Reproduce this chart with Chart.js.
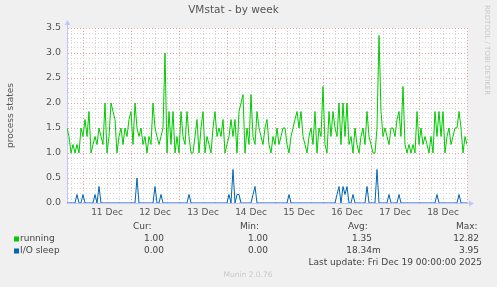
<!DOCTYPE html>
<html>
<head>
<meta charset="utf-8">
<script src="https://cdn.jsdelivr.net/npm/chart.js@4.4.1/dist/chart.umd.min.js"></script>
<style>
  html, body { margin: 0; padding: 0; background: #f0f0f0; }
  #wrap { width: 497px; height: 287px; }
</style>
</head>
<body>
<div id="wrap"><canvas id="vmstat" width="497" height="287"></canvas></div>
<script>
// ---------- DATA (one value per hour, hours counted from 11 Dec 00:00) ----------
const startHour = -8;   // 10 Dec 16:00
const endHour = 192;    // 19 Dec 00:00

const running = [
  1.5, 1.33, 1.0, 1.17, 1.0, 1.17, 1.0, 1.5, 1.33, 1.67,
  1.33, 1.83, 1.0, 1.17, 1.33, 1.17, 1.5, 1.33, 1.17, 2.0,
  1.0, 1.33, 2.0, 1.83, 1.67, 1.0, 1.33, 1.5, 1.17, 1.5,
  1.33, 1.67, 1.83, 1.17, 2.0, 1.5, 1.33, 1.5, 1.17, 1.33,
  1.0, 1.33, 1.17, 2.0, 1.5, 1.33, 1.17, 1.33, 1.5, 3.0,
  1.0, 1.83, 1.17, 1.83, 1.0, 1.33, 1.0, 1.83, 1.33, 1.17,
  1.83, 1.33, 1.0, 1.0, 1.33, 1.67, 1.0, 1.5, 1.83, 1.0,
  1.33, 1.17, 1.0, 1.5, 1.83, 1.33, 1.5, 1.33, 1.67, 1.0,
  1.17, 1.33, 1.67, 1.33, 1.67, 1.0, 1.83, 2.0, 2.17, 1.0,
  1.5, 1.17, 2.17, 1.33, 1.17, 1.83, 1.5, 1.33, 1.17, 1.5,
  1.67, 1.17, 1.0, 1.33, 1.17, 1.5, 1.17, 1.33, 1.5, 1.5,
  1.17, 1.0, 1.33, 1.5, 1.67, 1.83, 1.5, 1.83, 1.33, 1.17,
  1.0, 1.33, 1.5, 1.17, 1.83, 1.0, 1.5, 1.33, 2.33, 1.17,
  1.0, 1.83, 1.33, 1.83, 1.5, 1.33, 2.0, 1.17, 2.0, 1.33,
  2.0, 1.17, 1.33, 1.0, 1.5, 1.17, 1.0, 1.33, 1.5, 1.17,
  1.83, 1.33, 1.17, 1.0, 1.0, 1.5, 3.35, 1.83, 1.33, 1.5,
  1.33, 1.17, 1.5, 1.5, 1.33, 1.67, 1.83, 1.33, 2.33, 1.17,
  1.0, 1.17, 1.0, 1.17, 1.0, 1.83, 1.17, 1.5, 1.17, 1.33,
  1.17, 1.0, 1.33, 1.0, 1.83, 1.33, 1.83, 1.33, 1.83, 1.0,
  1.33, 1.5, 1.17, 1.33, 1.5, 1.5, 1.83, 1.5, 1.0, 1.33,
  1.17
];

const ioSleep = [
  0, 0, 0, 0, 0, 0.17, 0, 0, 0.17, 0,
  0, 0, 0, 0, 0.17, 0, 0.33, 0, 0, 0,
  0, 0, 0, 0, 0, 0, 0, 0, 0, 0,
  0, 0, 0, 0, 0, 0.5, 0, 0, 0, 0,
  0, 0, 0, 0, 0.33, 0, 0, 0.17, 0, 0,
  0, 0, 0, 0, 0, 0, 0, 0, 0, 0,
  0, 0.17, 0, 0, 0, 0, 0, 0, 0, 0,
  0, 0, 0, 0, 0, 0, 0, 0, 0, 0,
  0, 0.17, 0, 0.67, 0, 0.17, 0.17, 0, 0, 0,
  0, 0, 0, 0.17, 0.33, 0, 0, 0, 0, 0,
  0, 0, 0, 0, 0, 0, 0, 0, 0, 0,
  0, 0.17, 0, 0, 0, 0, 0, 0, 0, 0,
  0, 0, 0, 0, 0, 0, 0, 0, 0, 0,
  0, 0, 0, 0, 0, 0.17, 0.33, 0, 0.33, 0.17,
  0.33, 0, 0, 0.17, 0, 0, 0, 0, 0, 0,
  0.33, 0, 0, 0, 0, 0.67, 0, 0, 0, 0,
  0, 0.17, 0, 0, 0, 0, 0.17, 0, 0, 0,
  0, 0, 0, 0, 0, 0, 0, 0, 0, 0,
  0, 0, 0, 0, 0, 0.17, 0, 0, 0, 0,
  0, 0, 0, 0, 0, 0, 0.17, 0, 0, 0,
  0
];

// x axis: labels at noon of each day
const dayLabels = ['11 Dec', '12 Dec', '13 Dec', '14 Dec', '15 Dec', '16 Dec', '17 Dec', '18 Dec'];
const dayLabelHours = [12, 36, 60, 84, 108, 132, 156, 180];

// y axis
const yMax = 3.5;
const yLabelTicks = [0, 0.5, 1.0, 1.5, 2.0, 2.5, 3.0, 3.5];

// legend table
const seriesNames = ['running', 'I/O sleep'];
const seriesColors = ['#00cc00', '#0066b3'];
const curValues = ['1.00', '0.00'];
const minValues = ['1.00', '0.00'];
const avgValues = ['1.35', '18.34'];
const avgSuffix = ['', 'm'];
const maxValues = ['12.82', '3.95'];

// ---------- STYLE ----------
const FONT = 'DejaVu Sans';
const MAJOR_GRID = '#eaa2a2';
const MINOR_GRID = '#d6d6d6';
const AXIS_COLOR = '#c4c4ff';
const TEXT_COLOR = '#555555';

function toPoints(arr) {
    return arr.map((v, i) => ({ x: startHour + i, y: v }));
}

// plot bg + arrows + legend table under the chart
const muninDecor = {
    id: 'muninDecor',
    beforeDraw(chart) {
        const { ctx, chartArea: a } = chart;
        ctx.save();
        ctx.fillStyle = '#ffffff';
        ctx.fillRect(a.left, a.top, a.right - a.left, a.bottom - a.top);
        ctx.restore();
    },
    afterDraw(chart) {
        const { ctx, chartArea: a } = chart;
        ctx.save();

        // axis arrows
        ctx.strokeStyle = AXIS_COLOR;
        ctx.fillStyle = AXIS_COLOR;
        ctx.lineWidth = 1;
        ctx.beginPath();
        ctx.moveTo(a.left + 0.5, a.top);
        ctx.lineTo(a.left + 0.5, a.top - 4);
        ctx.moveTo(a.right, a.bottom + 0.5);
        ctx.lineTo(a.right + 4, a.bottom + 0.5);
        ctx.stroke();
        ctx.beginPath();
        ctx.moveTo(a.left + 0.5 - 3, a.top - 3);
        ctx.lineTo(a.left + 0.5 + 3, a.top - 3);
        ctx.lineTo(a.left + 0.5, a.top - 8);
        ctx.closePath();
        ctx.fill();
        ctx.beginPath();
        ctx.moveTo(a.right + 2, a.bottom + 0.5 - 3);
        ctx.lineTo(a.right + 2, a.bottom + 0.5 + 3);
        ctx.lineTo(a.right + 7, a.bottom + 0.5);
        ctx.closePath();
        ctx.fill();

        // watermark
        ctx.fillStyle = '#c8c8c8';
        ctx.font = '7px ' + FONT;
        ctx.translate(487, 5);
        ctx.rotate(Math.PI / 2);
        ctx.textAlign = 'left';
        ctx.textBaseline = 'middle';
        ctx.fillText('RRDTOOL / TOBI OETIKER', 0, 0);
        ctx.setTransform(1, 0, 0, 1, 0, 0);

        // legend table
        ctx.font = '9px ' + FONT;
        ctx.fillStyle = '#444444';
        ctx.textBaseline = 'middle';
        ctx.textAlign = 'left';
        ctx.fillText('Cur:', 133, 227);
        ctx.fillText('Min:', 240, 227);
        ctx.fillText('Avg:', 348, 227);
        ctx.fillText('Max:', 456, 227);

        const rowY = [239, 251];
        seriesNames.forEach((name, i) => {
            const y = rowY[i];
            ctx.fillStyle = seriesColors[i];
            ctx.fillRect(14, y - 2.5, 5, 5);
            ctx.fillStyle = '#444444';
            ctx.textAlign = 'left';
            ctx.fillText(name, 20, y);
            ctx.textAlign = 'right';
            ctx.fillText(curValues[i], 164, y);
            ctx.fillText(minValues[i], 268, y);
            ctx.fillText(avgValues[i], 372, y);
            ctx.fillText(maxValues[i], 479, y);
            if (avgSuffix[i]) {
                ctx.textAlign = 'left';
                ctx.fillText(avgSuffix[i], 372, y);
            }
        });

        ctx.textAlign = 'right';
        ctx.fillText('Last update: Fri Dec 19 00:00:00 2025', 482, 263);

        ctx.textAlign = 'center';
        ctx.font = '7.5px ' + FONT;
        ctx.fillStyle = '#c8c8c8';
        ctx.fillText('Munin 2.0.76', 248, 275);
        ctx.restore();
    }
};

const gridColorX = (c) => (((c.tick.value % 24) + 24) % 24 === 0 ? MAJOR_GRID : MINOR_GRID);
const gridColorY = (c) => (Math.round(c.tick.value * 10) % 5 === 0 ? MAJOR_GRID : MINOR_GRID);

new Chart(document.getElementById('vmstat'), {
    type: 'line',
    data: {
        datasets: [
            {
                label: seriesNames[0],
                data: toPoints(running),
                borderColor: seriesColors[0],
                borderWidth: 1,
                pointRadius: 0,
                tension: 0
            },
            {
                label: seriesNames[1],
                data: toPoints(ioSleep),
                borderColor: seriesColors[1],
                borderWidth: 1,
                pointRadius: 0,
                tension: 0
            }
        ]
    },
    options: {
        responsive: false,
        animation: false,
        layout: { padding: { left: 0, right: 30, top: 0, bottom: 0 } },
        plugins: {
            legend: { display: false },
            tooltip: { enabled: false },
            title: {
                display: true,
                text: 'VMstat - by week',
                color: TEXT_COLOR,
                font: { family: FONT, size: 10.5, weight: 'normal' },
                padding: { top: 4, bottom: 11.4 }
            }
        },
        scales: {
            x: {
                type: 'linear',
                min: startHour,
                max: endHour,
                afterBuildTicks: (scale) => {
                    const t = [];
                    for (let h = -6; h <= endHour; h += 6) t.push({ value: h });
                    scale.ticks = t;
                },
                afterFit: (scale) => { scale.height = 84; },
                ticks: {
                    autoSkip: false,
                    maxRotation: 0,
                    minRotation: 0,
                    padding: 4.5,
                    color: TEXT_COLOR,
                    font: { family: FONT, size: 9 },
                    callback: (v) => {
                        const k = dayLabelHours.indexOf(v);
                        return k >= 0 ? dayLabels[k] : '';
                    }
                },
                grid: { color: gridColorX, drawTicks: false, lineWidth: 1 },
                border: { display: true, color: AXIS_COLOR, dash: [1, 2] }
            },
            y: {
                min: 0,
                max: yMax,
                afterBuildTicks: (scale) => {
                    const t = [];
                    for (let k = 0; k <= 35; k++) t.push({ value: k / 10 });
                    scale.ticks = t;
                },
                afterFit: (scale) => { scale.width = 67; },
                ticks: {
                    autoSkip: false,
                    padding: 6,
                    color: TEXT_COLOR,
                    font: { family: FONT, size: 9.5 },
                    callback: (v) => {
                        const hit = yLabelTicks.find(t => Math.abs(t - v) < 1e-6);
                        return hit !== undefined ? hit.toFixed(1) : '';
                    }
                },
                grid: { color: gridColorY, drawTicks: false, lineWidth: 1 },
                border: { display: true, color: AXIS_COLOR, dash: [1, 2] },
                title: {
                    display: true,
                    text: 'process states',
                    color: TEXT_COLOR,
                    font: { family: FONT, size: 9 },
                    padding: { top: 5.5, bottom: 0 }
                }
            }
        }
    },
    plugins: [muninDecor]
});
</script>
</body>
</html>
